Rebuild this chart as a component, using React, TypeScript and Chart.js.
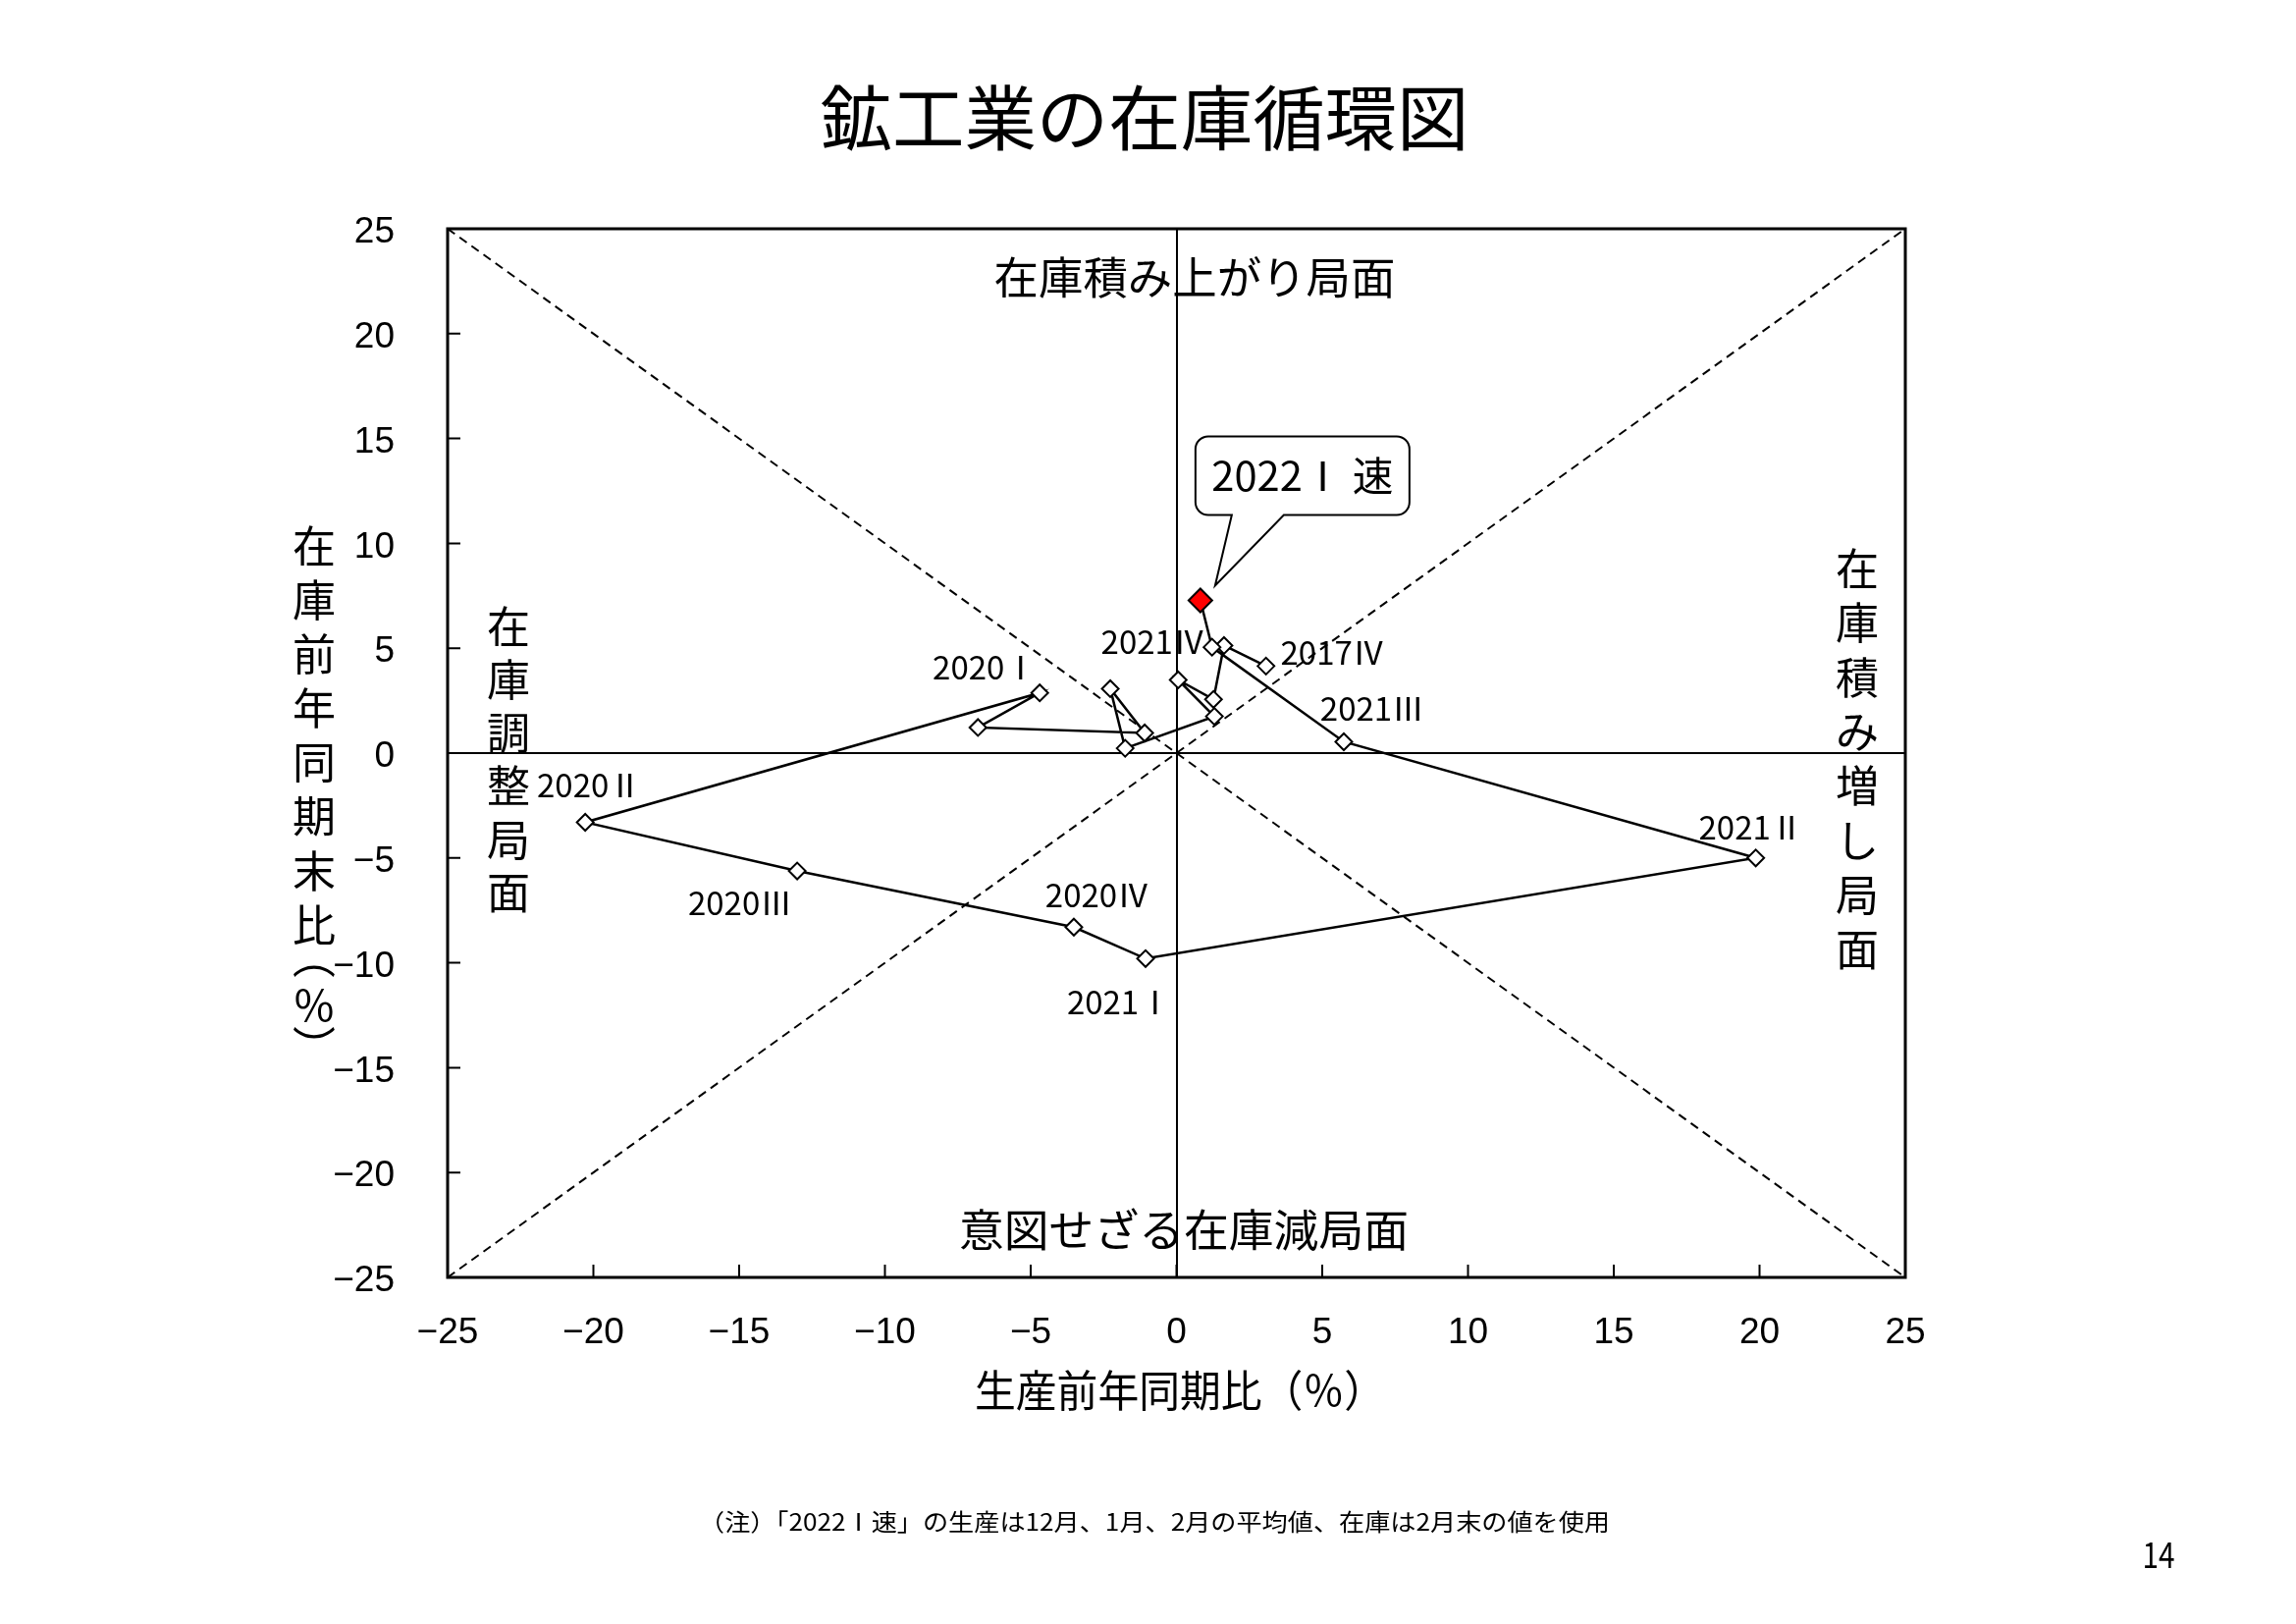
import React, { useEffect, useRef } from 'react';
import { Chart, registerables } from 'chart.js';

Chart.register(...registerables);

// ---- data (quarterly, y/y %) ----
const periods = ['2017Ⅳ', '2018Ⅰ', '2018Ⅱ', '2018Ⅲ', '2018Ⅳ', '2019Ⅰ', '2019Ⅱ', '2019Ⅲ', '2019Ⅳ', '2020Ⅰ', '2020Ⅱ', '2020Ⅲ', '2020Ⅳ', '2021Ⅰ', '2021Ⅱ', '2021Ⅲ', '2021Ⅳ', '2022Ⅰ速'];
const production = [3.07, 1.63, 1.27, 0.06, 1.30, -1.76, -2.27, -1.09, -6.81, -4.69, -20.28, -13.01, -3.52, -1.06, 19.87, 5.74, 1.22, 0.82];
const inventory = [4.15, 5.13, 2.56, 3.49, 1.75, 0.23, 3.07, 0.96, 1.22, 2.87, -3.30, -5.62, -8.30, -9.80, -5.00, 0.54, 5.05, 7.28];

const labelledPeriods = ['2017Ⅳ', '2020Ⅰ', '2020Ⅱ', '2020Ⅲ', '2020Ⅳ', '2021Ⅰ', '2021Ⅱ', '2021Ⅲ', '2021Ⅳ'];
const calloutText = '2022Ⅰ 速';
const axisTickValues = [-25, -20, -15, -10, -5, 0, 5, 10, 15, 20, 25];
const diagonalX = [-25, 25];
const risingY = [-25, 25];
const fallingY = [25, -25];

const titleText = '鉱工業の在庫循環図';
const xTitle = '生産前年同期比（％）';
const yTitleChars = ['在', '庫', '前', '年', '同', '期', '末', '比', '（', '％', '）'];
const phaseTop = '在庫積み上がり局面';
const phaseBottom = '意図せざる在庫減局面';
const phaseLeft = '在庫調整局面';
const phaseRight = '在庫積み増し局面';
const footnote = '（注）「2022Ⅰ速」の生産は12月、1月、2月の平均値、在庫は2月末の値を使用';
const pageNo = '14';

// ---- style / layout ----
const JP = "'Noto Sans CJK JP', 'Noto Sans', sans-serif";
const labelOffsets: Record<string, [number, number]> = {
  '2017Ⅳ': [68, -14],
  '2021Ⅳ': [-60, -6],
  '2020Ⅰ': [-56, -26],
  '2021Ⅲ': [29, -34],
  '2021Ⅱ': [-5, -31],
  '2020Ⅱ': [4, -38],
  '2020Ⅲ': [-58, 32],
  '2020Ⅳ': [24, -33],
  '2021Ⅰ': [-27, 44],
};

function drawText(ctx: CanvasRenderingContext2D, text: string, cx: number, cy: number, size: number, targetW?: number, family: string = JP, rotate = 0) {
  ctx.save();
  ctx.font = `${size}px ${family}`;
  ctx.textAlign = 'center';
  ctx.textBaseline = 'middle';
  ctx.fillStyle = '#000';
  ctx.translate(cx, cy);
  if (rotate) ctx.rotate(rotate);
  if (targetW) {
    const w = ctx.measureText(text).width;
    ctx.scale(targetW / w, 1);
  }
  ctx.fillText(text, 0, 0);
  ctx.restore();
}

const overlayPlugin = {
  id: 'overlay',
  afterDatasetsDraw(chart: any) {
    const ctx: CanvasRenderingContext2D = chart.ctx;
    const { left, right, top, bottom } = chart.chartArea;
    const xs = chart.scales.x;
    const ys = chart.scales.y;
    ctx.save();
    // frame
    ctx.strokeStyle = '#000';
    ctx.lineWidth = 3;
    ctx.strokeRect(left, top, right - left, bottom - top);
    // inward tick marks
    ctx.lineWidth = 2;
    ctx.beginPath();
    for (const v of axisTickValues) {
      if (v === axisTickValues[0] || v === axisTickValues[axisTickValues.length - 1]) continue;
      const y = ys.getPixelForValue(v);
      ctx.moveTo(left, y);
      ctx.lineTo(left + 13, y);
      const x = xs.getPixelForValue(v);
      ctx.moveTo(x, bottom);
      ctx.lineTo(x, bottom - 13);
    }
    ctx.stroke();
    ctx.restore();

    // point labels
    for (const p of labelledPeriods) {
      const i = periods.indexOf(p);
      const px = xs.getPixelForValue(production[i]);
      const py = ys.getPixelForValue(inventory[i]);
      const [dx, dy] = labelOffsets[p];
      drawText(ctx, p, px + dx, py + dy, 33);
    }

    // callout for latest point
    const last = periods.length - 1;
    const rx = xs.getPixelForValue(production[last]);
    const ry = ys.getPixelForValue(inventory[last]);
    const L = rx - 5, R = rx + 213, T = ry - 167, B = ry - 87, r = 13;
    const b1 = rx + 32, b2 = rx + 85;
    const tipX = rx + 15, tipY = ry - 15;
    ctx.save();
    ctx.beginPath();
    ctx.moveTo(L + r, T);
    ctx.lineTo(R - r, T);
    ctx.arcTo(R, T, R, T + r, r);
    ctx.lineTo(R, B - r);
    ctx.arcTo(R, B, R - r, B, r);
    ctx.lineTo(b2, B);
    ctx.lineTo(tipX, tipY);
    ctx.lineTo(b1, B);
    ctx.lineTo(L + r, B);
    ctx.arcTo(L, B, L, B - r, r);
    ctx.lineTo(L, T + r);
    ctx.arcTo(L, T, L + r, T, r);
    ctx.closePath();
    ctx.fillStyle = '#fff';
    ctx.fill();
    ctx.strokeStyle = '#000';
    ctx.lineWidth = 2;
    ctx.stroke();
    ctx.restore();
    drawText(ctx, calloutText, (L + R) / 2, (T + B) / 2, 41, 185);

    // phase labels
    drawText(ctx, phaseTop, 1217, 283, 45, 409);
    drawText(ctx, phaseBottom, 1206, 1253, 45, 458);
    Array.from(phaseLeft).forEach((ch, i) => drawText(ctx, ch, 518, 638 + i * 54.2, 44));
    Array.from(phaseRight).forEach((ch, i) => drawText(ctx, ch, 1892, 579 + i * 55.4, 44));

    // titles
    drawText(ctx, titleText, 1166, 120, 72, 661);
    drawText(ctx, xTitle, 1202, 1416, 44, 418);
    const yPos = [556, 611, 666, 721, 776, 831, 887, 942, 975, 1024, 1066];
    yTitleChars.forEach((ch, i) => {
      const rot = ch === '（' || ch === '）' ? Math.PI / 2 : 0;
      drawText(ctx, ch, 320, yPos[i], 44, undefined, JP, rot);
    });
    drawText(ctx, footnote, 1176, 1550, 24, 928);
    drawText(ctx, pageNo, 2199, 1583, 36, 33);
  },
};

export default function App() {
  const canvasRef = useRef<HTMLCanvasElement | null>(null);

  useEffect(() => {
    const canvas = canvasRef.current;
    if (!canvas) return;
    const mainPoints = production.map((x, i) => ({ x, y: inventory[i] }));
    const last = periods.length - 1;
    const chart = new Chart(canvas, {
      type: 'scatter',
      data: {
        datasets: [
          {
            data: mainPoints,
            showLine: true,
            borderColor: '#000',
            borderWidth: 2.5,
            pointStyle: 'rectRot',
            pointRadius: periods.map((_, i) => (i === last ? 12 : 8.5)),
            pointBackgroundColor: periods.map((_, i) => (i === last ? '#ff0000' : '#ffffff')),
            pointBorderColor: '#000',
            pointBorderWidth: 2,
            order: 0,
          } as any,
          {
            data: diagonalX.map((x, i) => ({ x, y: risingY[i] })),
            showLine: true,
            borderColor: '#000',
            borderWidth: 2,
            borderDash: [9, 6],
            pointRadius: 0,
            order: 1,
          } as any,
          {
            data: diagonalX.map((x, i) => ({ x, y: fallingY[i] })),
            showLine: true,
            borderColor: '#000',
            borderWidth: 2,
            borderDash: [9, 6],
            pointRadius: 0,
            order: 2,
          } as any,
        ],
      },
      options: {
        responsive: false,
        animation: false,
        devicePixelRatio: 1,
        layout: { padding: { left: 0, top: 233, right: 398, bottom: 0 } },
        plugins: { legend: { display: false }, tooltip: { enabled: false } },
        scales: {
          x: {
            type: 'linear',
            min: -25,
            max: 25,
            afterBuildTicks: (s: any) => { s.ticks = axisTickValues.map((v) => ({ value: v })); },
            ticks: {
              color: '#000',
              font: { family: "'Liberation Sans', Arial, sans-serif", size: 37 },
              padding: 35,
              maxRotation: 0,
              autoSkip: false,
              callback: (v: any) => (v < 0 ? '−' + Math.abs(v) : String(v)),
            },
            grid: {
              drawTicks: false,
              lineWidth: 2,
              color: (c: any) => (c.tick && c.tick.value === 0 ? '#000' : 'rgba(0,0,0,0)'),
            },
            border: { display: false },
            afterFit: (s: any) => { s.height = 353; },
          },
          y: {
            type: 'linear',
            min: -25,
            max: 25,
            afterBuildTicks: (s: any) => { s.ticks = axisTickValues.map((v) => ({ value: v })); },
            ticks: {
              color: '#000',
              font: { family: "'Liberation Sans', Arial, sans-serif", size: 37 },
              padding: 54,
              labelOffset: 4,
              autoSkip: false,
              callback: (v: any) => (v < 0 ? '−' + Math.abs(v) : String(v)),
            },
            grid: {
              drawTicks: false,
              lineWidth: 2,
              color: (c: any) => (c.tick && c.tick.value === 0 ? '#000' : 'rgba(0,0,0,0)'),
            },
            border: { display: false },
            afterFit: (s: any) => { s.width = 456; },
          },
        },
      } as any,
      plugins: [overlayPlugin],
    });
    if ((document as any).fonts && (document as any).fonts.ready) {
      (document as any).fonts.ready.then(() => chart.update());
    }
    return () => chart.destroy();
  }, []);

  return (
    <div style={{ position: 'absolute', left: 0, top: 0, width: 2339, height: 1654, background: '#fff' }}>
      <canvas ref={canvasRef} width={2339} height={1654} style={{ width: 2339, height: 1654, display: 'block' }} />
    </div>
  );
}
